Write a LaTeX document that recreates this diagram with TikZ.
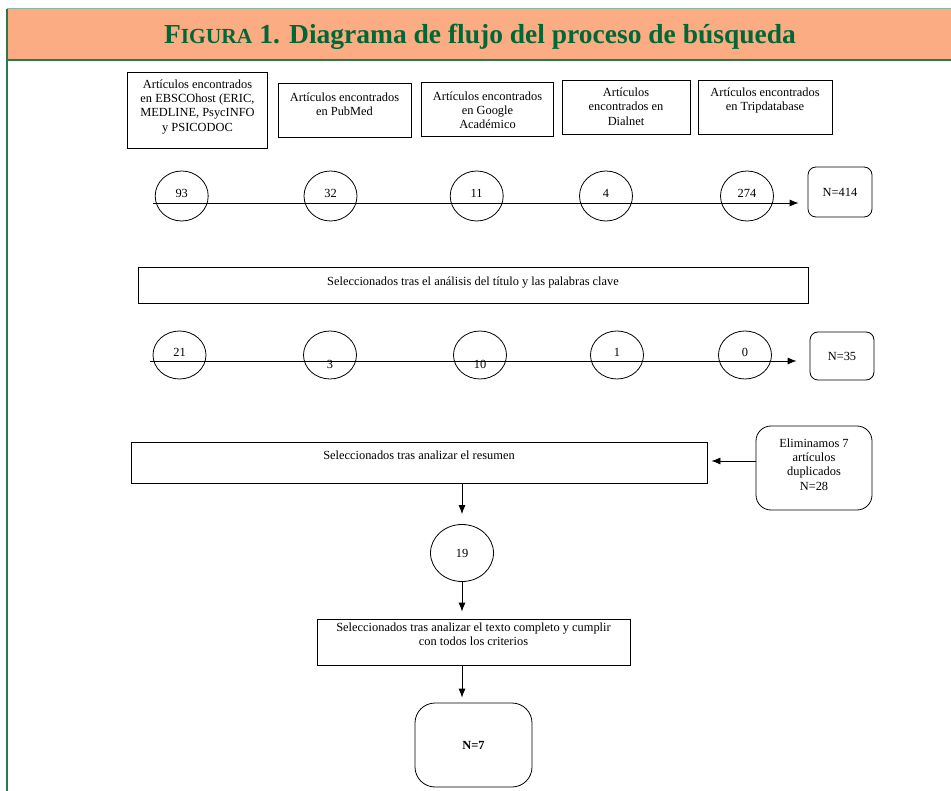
\documentclass[tikz,border=0pt]{standalone}
\usepackage{fontspec}
\setmainfont{Liberation Serif}
\usepackage{tikz}
\usetikzlibrary{arrows.meta,shapes.geometric,positioning,calc}

\definecolor{headfill}{RGB}{251,172,131}
\definecolor{headgreen}{RGB}{0,104,52}
\definecolor{framegreen}{RGB}{40,122,78}

% text sitting at the top of a box
\newcommand{\boxtext}[4][7pt]{\parbox[c][#3][t]{#2}{\centering\vspace*{#1}\strut #4}}

\begin{document}
\begin{tikzpicture}[>={Latex[length=9pt,width=7pt]}, x=1pt, y=-1pt,
    font=\fontsize{12.4}{14.4}\selectfont,
    srcbox/.style={draw, line width=0.8pt, inner sep=0pt},
    countnode/.style={draw, ellipse, line width=0.8pt, minimum width=53pt, minimum height=50pt, inner sep=0pt, text depth=6pt},
    lowcount/.style={countnode, text height=28pt, text depth=0pt},
    totbox/.style={draw, line width=0.8pt, rounded corners=8pt, minimum width=64pt, minimum height=50pt},
    flow/.style={->, line width=0.8pt}]

    \useasboundingbox (0,0) rectangle (951,791);

    %% Header
    \fill [headfill] (7,9) rectangle (951,60);
    \draw [framegreen!55, line width=1pt] (7,9) -- (951,9);
    \draw [framegreen, line width=2pt] (7,60) -- (951,60);
    \draw [framegreen, line width=1.5pt] (7,9) -- (7,791);
    \node at (480,44) [anchor=base, text=headgreen, font=\fontsize{27.5}{32}\selectfont\bfseries] (title) {F{\fontsize{21.5}{25}\selectfont IGURA} 1. Diagrama de flujo del proceso de búsqueda};

    %% Sources
    \node at (197.5,110) [srcbox] (ebsco) {\boxtext[6pt]{140pt}{76pt}{Artículos encontrados\\ en EBSCOhost (ERIC,\\ MEDLINE, PsycINFO\\ y PSICODOC}};
    \node at (344.5,110) [srcbox] (pubmed) {\boxtext[8pt]{133pt}{54pt}{Artículos encontrados\\ en PubMed}};
    \node at (487.5,109) [srcbox] (google) {\boxtext[8pt]{132pt}{54pt}{Artículos encontrados\\ en Google\\ Académico}};
    \node at (626,107.5) [srcbox] (dialnet) {\boxtext[6pt]{128pt}{54pt}{Artículos\\ encontrados en\\ Dialnet}};
    \node at (765,107.5) [srcbox] (trip) {\boxtext[6pt]{134pt}{54pt}{Artículos encontrados\\ en Tripdatabase}};

    %% First count
    \node at (181.7,196) [countnode] (ebscoA) {93};
    \node at (330.5,196) [countnode] (pubmedA) {32};
    \node at (476.7,196) [countnode] (googleA) {11};
    \node at (606,196) [countnode] (dialnetA) {4};
    \node at (747,196) [countnode] (tripA) {274};
    \node at (840,192) [totbox] (totalA) {N=414};
    \coordinate (lineA) at (153,203);

    %% Title and keywords
    \node at (473,285) [srcbox] (keys) {\boxtext[8pt]{670pt}{36pt}{Seleccionados tras el análisis del título y las palabras clave}};

    %% Second count
    \node at (179.5,355) [countnode, minimum height=48pt] (ebscoB) {21};
    \node at (330,355) [lowcount, minimum height=48pt] (pubmedB) {3};
    \node at (480,355) [lowcount, minimum height=48pt] (googleB) {10};
    \node at (617,355) [countnode, minimum height=48pt] (dialnetB) {1};
    \node at (745,355) [countnode, minimum height=48pt] (tripB) {0};
    \node at (842,356) [totbox, minimum height=48pt] (totalB) {N=35};
    \coordinate (lineB) at (150,361);

    %% Abstract and full text
    \node at (419,462.5) [srcbox] (abstract) {\boxtext[7pt]{576pt}{41pt}{Seleccionados tras analizar el resumen}};
    \node at (814,468) [draw, line width=0.8pt, rounded corners=15pt, inner sep=0pt] (dupl) {\boxtext[11pt]{116pt}{84pt}{Eliminamos 7\\ artículos\\ duplicados\\ N=28}};
    \node at (462,553) [countnode, minimum width=63pt, minimum height=57pt, text depth=0pt] (abstractC) {19};
    \node at (473.5,642) [srcbox] (fulltext) {\boxtext[2pt]{313pt}{46pt}{Seleccionados tras analizar el texto completo y cumplir\\ con todos los criterios}};
    \node at (473.5,745) [totbox, rounded corners=20pt, minimum width=117pt, minimum height=84pt, font=\fontsize{12.4}{14.4}\selectfont\bfseries] (final) {N=7};

    %% Arrows
    \draw [flow, shorten >=9pt] (lineA) -- (lineA -| totalA.west);
    \draw [flow, shorten >=13pt] (lineB) -- (lineB -| totalB.west);
    \draw [flow, shorten >=4pt] ([yshift=7pt]dupl.west) -- ([yshift=7pt]dupl.west -| abstract.east);
    \draw [flow, shorten >=10pt] (abstract.south -| abstractC) -- (abstractC.north);
    \draw [flow, shorten >=7pt] (abstractC.south) -- (fulltext.north -| abstractC);
    \draw [flow, shorten >=5pt] (fulltext.south -| abstractC) -- (final.north -| abstractC);
\end{tikzpicture}
\end{document}
